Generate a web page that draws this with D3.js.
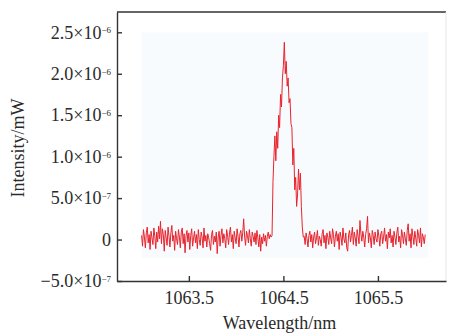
<!DOCTYPE html>
<html>
<head>
<meta charset="utf-8">
<script src="https://cdn.jsdelivr.net/npm/d3@7"></script>
<style>
    body { margin: 0; background: #fff; }
    svg { display: block; font-family: "Liberation Serif", "DejaVu Serif", serif; }
    .axis text { font-size: 18px; fill: #2a2a2a; font-family: "Liberation Serif", serif; }
    .axis path, .axis line { stroke: #333; stroke-width: 1.4; }
</style>
</head>
<body>
<div id="chart"></div>
<script>
// wavelength grid: first point and step (nm)
const wlStart = 1063.0;
const wlStep = 0.01;

// intensity in units of 1e-7 mW
// 1063.00 .. 1064.37
const baselineLeft = [
    0.5, -0.8, 1.2, 0.3, -1.0, 0.8, 1.5, -0.4, 0.6, -1.2,
    1.0, 0.2, -0.6, 1.4, 0.4, -1.1, 0.9, -0.3, 1.6, 0.1,
    2.2, -0.5, 1.3, 0.6, -1.4, 1.1, 0.2, -0.7, 1.5, 0.4,
    -0.9, 0.8, 1.7, -0.2, 0.5, -1.3, 1.0, 0.1, -0.6, 1.2,
    0.3, -1.0, 0.9, 1.4, -0.5, 0.7, -1.6, 0.4, 1.1, -0.3,
    0.8, -1.2, 0.5, 1.3, -0.8, 0.2, 1.0, -0.4, 0.6, -1.1,
    1.2, 0.0, -0.7, 0.9, 0.3, -1.0, 1.4, -0.2, 0.5, -0.9,
    0.7, 0.2, -0.5, -1.3, 0.6, 1.1, -0.6, 0.4, -0.3, 0.9,
    -1.7, 0.3, 1.0, -0.8, 0.5, 1.3, -0.4, 0.7, 0.1, -1.0,
    1.2, 0.4, -0.6, 0.8, 1.5, -0.3, 0.6, -1.1, 1.0, 0.2,
    -0.5, 1.3, 0.4, -0.9, 0.7, 1.1, -0.2, 0.8, 2.5, 0.3,
    -0.7, 1.0, 0.5, -0.4, 1.2, 0.1, -0.8, 0.9, 0.4, -0.3,
    0.8, -0.6, 1.1, 0.2, -0.9, 0.6, -1.4, 0.3, -0.5, 0.7,
    -0.2, 0.5, -0.8, 0.4, 0.9, 0.1, 0.6, 0.3
];
// 1064.38 .. 1064.71
const peakValues = [
    0.5, 7.0, 10.0, 12.5, 9.5, 13.0, 11.0, 15.0, 13.5, 17.5,
    16.0, 19.5, 21.0, 23.8, 20.0, 21.5, 18.5, 19.5, 16.5, 17.0,
    14.0, 13.5, 9.0, 11.0, 6.0, 7.5, 4.0, 5.5, 8.5, 6.0,
    8.0, 4.0, 1.5, 0.3
];
// 1064.72 .. 1066.00
const baselineRight = [
    0.4, -0.6, 0.8, 0.1, -0.9, 0.5, 1.0, -0.3,
    0.6, -1.0, 0.3, 0.9, -0.5, 0.2, 1.1, -0.7, 0.4, 0.0,
    -0.8, 0.7, 1.2, -0.4, 0.5, -1.1, 0.8, 0.3, -0.6, 1.0,
    0.2, -0.5, 1.3, 0.6, -0.9, 0.4, 1.0, -0.2, 0.7, -1.2,
    0.9, 0.3, -0.7, 1.4, 0.1, -0.4, 0.8, -1.0, -1.4, 0.6,
    1.1, -0.3, 0.5, 1.5, -0.6, 0.9, 0.2, -0.8, 1.2, 0.4,
    -0.5, 2.3, 0.7, -0.2, 1.0, 0.3, -0.9, 0.6, 1.3, 2.8,
    -0.4, 0.8, 0.2, -1.0, 1.1, 0.5, -0.6, 0.9, 0.1, -0.3,
    1.2, 0.4, -0.8, 0.7, 1.0, -0.5, 0.3, 1.4, -0.2, 0.6,
    -1.1, 0.9, 0.2, 1.3, -0.4, 0.5, -0.9, 1.0, 0.3, -0.6,
    0.8, 1.5, -0.3, 0.4, -1.0, 1.2, 0.6, -0.5, 0.9, 0.1,
    -0.7, 1.1, 1.9, -0.2, 0.7, -1.0, 1.3, 0.4, -0.6, 1.0,
    0.2, -0.8, 1.2, 0.5, -0.4, 1.4, -0.9, 0.7, 0.3, -0.5,
    0.6
];

const xTicks = [1063.5, 1064.5, 1065.5];
const yTicks = [-5e-7, 0, 5e-7, 1e-6, 1.5e-6, 2e-6, 2.5e-6];
const yTickLabels = [
    ["\u22125.0\u00d710", "\u22127"],
    ["0", ""],
    ["5.0\u00d710", "\u22127"],
    ["1.0\u00d710", "\u22126"],
    ["1.5\u00d710", "\u22126"],
    ["2.0\u00d710", "\u22126"],
    ["2.5\u00d710", "\u22126"]
];

const values = baselineLeft.concat(peakValues, baselineRight);
const data = values.map((v, i) => ({wl: wlStart + i * wlStep, v: v * 1e-7}));

const margin = {top: 12, right: 3, bottom: 53, left: 117};
const width = 449 - margin.left - margin.right;
const height = 334 - margin.top - margin.bottom;

const svg = d3.select("#chart").append("svg")
    .attr("width", 449)
    .attr("height", 334)
    .append("g")
    .attr("transform", "translate(" + margin.left + "," + margin.top + ")");

const x = d3.scaleLinear().domain([1062.74, 1066.22]).range([0, width]);
const y = d3.scaleLinear().domain([-5e-7, 2.745e-6]).range([height, 0]);

// faint plot backdrop
svg.append("rect")
    .attr("x", x(1063.0))
    .attr("y", y(2.5e-6))
    .attr("width", x(1066.03) - x(1063.0))
    .attr("height", y(-2.2e-7) - y(2.5e-6))
    .attr("fill", "#f8fbfd");

// frame top / right
svg.append("line")
    .attr("x1", 0).attr("x2", width).attr("y1", 0).attr("y2", 0)
    .attr("stroke", "#333").attr("stroke-width", 1.4);
svg.append("line")
    .attr("x1", width).attr("x2", width).attr("y1", 0).attr("y2", height)
    .attr("stroke", "#e6e6e6").attr("stroke-width", 1);

// spectrum
svg.append("path")
    .datum(data)
    .attr("fill", "none")
    .attr("stroke", "#e8232d")
    .attr("stroke-width", 1)
    .attr("stroke-linejoin", "round")
    .attr("d", d3.line().x(d => x(d.wl)).y(d => y(d.v)));

// axes
const xAxis = d3.axisBottom(x).tickValues(xTicks).tickSizeInner(-5).tickSizeOuter(0)
    .tickPadding(10).tickFormat(d3.format(".1f"));
const yAxis = d3.axisLeft(y).tickValues(yTicks).tickSizeInner(-5).tickSizeOuter(0)
    .tickPadding(6).tickFormat(() => "");

svg.append("g")
    .attr("class", "x-axis axis")
    .attr("transform", "translate(0," + height + ")")
    .call(xAxis);

const yg = svg.append("g")
    .attr("class", "y-axis axis")
    .call(yAxis);

yg.selectAll(".tick text").each(function(d, i) {
    let t = d3.select(this);
    t.append("tspan").text(yTickLabels[i][0]);
    if (yTickLabels[i][1]) {
        t.append("tspan")
            .attr("dy", "-0.6em")
            .attr("font-size", "9px")
            .text(yTickLabels[i][1]);
    }
});

svg.selectAll(".axis .domain").attr("stroke", "#333");

// axis titles
svg.append("text")
    .attr("x", width / 2 - 2)
    .attr("y", height + 48)
    .attr("text-anchor", "middle")
    .attr("font-size", "18px")
    .attr("fill", "#2a2a2a")
    .text("Wavelength/nm");

svg.append("text")
    .attr("transform", "rotate(-90)")
    .attr("x", -136)
    .attr("y", -93)
    .attr("text-anchor", "middle")
    .attr("font-size", "18px")
    .attr("fill", "#2a2a2a")
    .text("Intensity/mW");
</script>
</body>
</html>
